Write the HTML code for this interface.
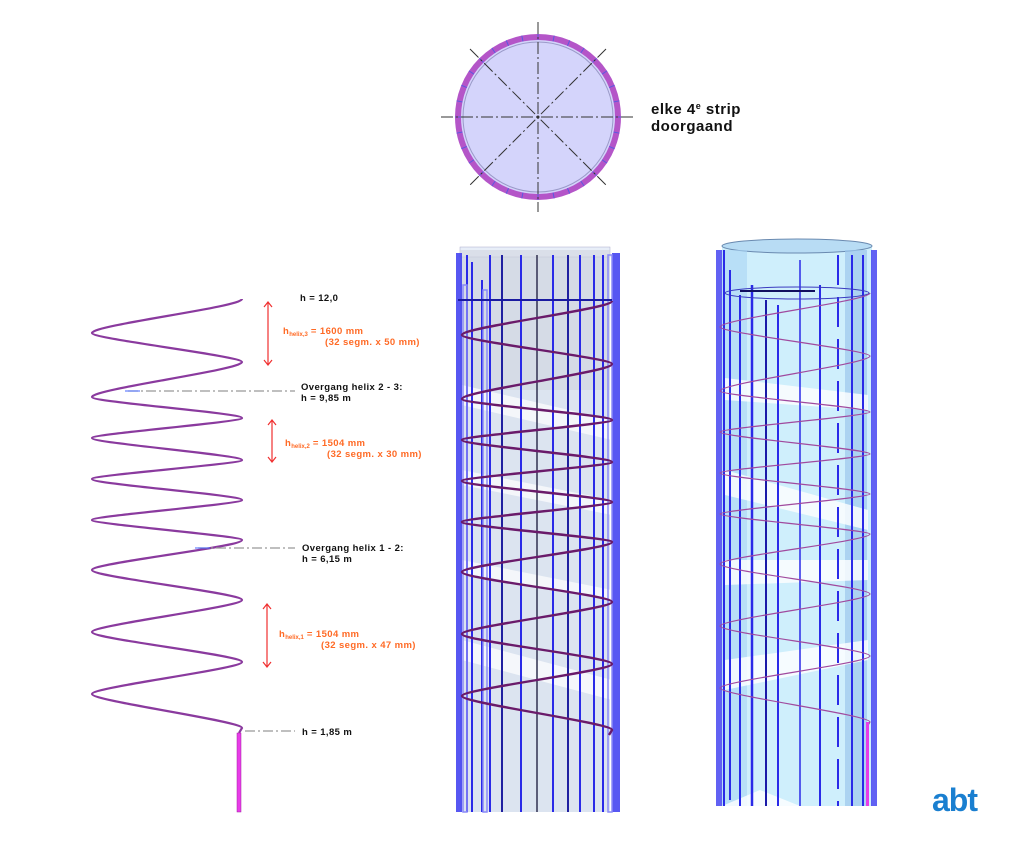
<!DOCTYPE html>
<html><head><meta charset="utf-8"><style>
html,body{margin:0;padding:0;background:#fff;}
body{width:1024px;height:853px;overflow:hidden;position:relative;font-family:"Liberation Sans",Arial,sans-serif;}
</style></head><body>
<svg width="1024" height="853" viewBox="0 0 1024 853" xmlns="http://www.w3.org/2000/svg" style="position:absolute;left:0;top:0">
<defs>
<path id="hx" d="M242,299 C242,307 92,325 92,333 C92,339 242,356 242,362 C242,370 92,389 92,397 C92,402 242,413 242,418 C242,422 92,434 92,438 C92,443 242,455 242,460 C242,464 92,475 92,479 C92,484 242,495 242,500 C242,504 92,516 92,520 C92,524 242,536 242,540 C242,547 92,563 92,570 C92,577 242,593 242,600 C242,607 92,625 92,632 C92,639 242,655 242,662 C242,669 92,687 92,694 C92,701 242,721 242,728 L239,733" fill="none"/>
</defs>

<!-- top circle -->
<g>
<circle cx="538" cy="117" r="80" fill="#d4d4fb" stroke="#b455c8" stroke-width="6"/>
<circle cx="538" cy="117" r="75" fill="none" stroke="#9a9ac8" stroke-width="1"/>
<g stroke="#5a5ae0" stroke-width="1">
<line x1="538" y1="34" x2="538" y2="40" transform="rotate(0 538 117)"/>
<line x1="538" y1="34" x2="538" y2="40" transform="rotate(11.25 538 117)"/>
<line x1="538" y1="34" x2="538" y2="40" transform="rotate(22.5 538 117)"/>
<line x1="538" y1="34" x2="538" y2="40" transform="rotate(33.75 538 117)"/>
<line x1="538" y1="34" x2="538" y2="40" transform="rotate(45 538 117)"/>
<line x1="538" y1="34" x2="538" y2="40" transform="rotate(56.25 538 117)"/>
<line x1="538" y1="34" x2="538" y2="40" transform="rotate(67.5 538 117)"/>
<line x1="538" y1="34" x2="538" y2="40" transform="rotate(78.75 538 117)"/>
<line x1="538" y1="34" x2="538" y2="40" transform="rotate(90 538 117)"/>
<line x1="538" y1="34" x2="538" y2="40" transform="rotate(101.25 538 117)"/>
<line x1="538" y1="34" x2="538" y2="40" transform="rotate(112.5 538 117)"/>
<line x1="538" y1="34" x2="538" y2="40" transform="rotate(123.75 538 117)"/>
<line x1="538" y1="34" x2="538" y2="40" transform="rotate(135 538 117)"/>
<line x1="538" y1="34" x2="538" y2="40" transform="rotate(146.25 538 117)"/>
<line x1="538" y1="34" x2="538" y2="40" transform="rotate(157.5 538 117)"/>
<line x1="538" y1="34" x2="538" y2="40" transform="rotate(168.75 538 117)"/>
<line x1="538" y1="34" x2="538" y2="40" transform="rotate(180 538 117)"/>
<line x1="538" y1="34" x2="538" y2="40" transform="rotate(191.25 538 117)"/>
<line x1="538" y1="34" x2="538" y2="40" transform="rotate(202.5 538 117)"/>
<line x1="538" y1="34" x2="538" y2="40" transform="rotate(213.75 538 117)"/>
<line x1="538" y1="34" x2="538" y2="40" transform="rotate(225 538 117)"/>
<line x1="538" y1="34" x2="538" y2="40" transform="rotate(236.25 538 117)"/>
<line x1="538" y1="34" x2="538" y2="40" transform="rotate(247.5 538 117)"/>
<line x1="538" y1="34" x2="538" y2="40" transform="rotate(258.75 538 117)"/>
<line x1="538" y1="34" x2="538" y2="40" transform="rotate(270 538 117)"/>
<line x1="538" y1="34" x2="538" y2="40" transform="rotate(281.25 538 117)"/>
<line x1="538" y1="34" x2="538" y2="40" transform="rotate(292.5 538 117)"/>
<line x1="538" y1="34" x2="538" y2="40" transform="rotate(303.75 538 117)"/>
<line x1="538" y1="34" x2="538" y2="40" transform="rotate(315 538 117)"/>
<line x1="538" y1="34" x2="538" y2="40" transform="rotate(326.25 538 117)"/>
<line x1="538" y1="34" x2="538" y2="40" transform="rotate(337.5 538 117)"/>
<line x1="538" y1="34" x2="538" y2="40" transform="rotate(348.75 538 117)"/>
</g>
<g stroke="#333" stroke-width="1" stroke-dasharray="12,3,2,3" fill="none">
<line x1="441" y1="117" x2="636" y2="117"/>
<line x1="538" y1="22" x2="538" y2="212"/>
<line x1="470" y1="49" x2="606" y2="185"/>
<line x1="606" y1="49" x2="470" y2="185"/>
</g>
<circle cx="538" cy="117" r="1.5" fill="#333"/>
</g>
<text x="651" y="114" font-size="15" font-weight="bold" fill="#111" letter-spacing="0.5">elke 4<tspan font-size="9" dy="-5">e</tspan><tspan dy="5"> strip</tspan></text>
<text x="651" y="131" font-size="15" font-weight="bold" fill="#111" letter-spacing="0.5">doorgaand</text>

<!-- left helix -->
<use href="#hx" stroke="#8a3a9e" stroke-width="2.2"/>
<rect x="237" y="733" width="4" height="79" fill="#e83ce8" stroke="#a020a0" stroke-width="0.5"/>
<g stroke="#999" stroke-width="1.3" stroke-dasharray="10,3,2,3">
<line x1="128" y1="391" x2="295" y2="391"/>
<line x1="198" y1="548" x2="295" y2="548"/>
<line x1="245" y1="731" x2="295" y2="731"/>
</g>
<line x1="125" y1="391" x2="140" y2="391" stroke="#4466ff" stroke-width="1"/>
<line x1="195" y1="548" x2="210" y2="548" stroke="#4466ff" stroke-width="1"/>
<g stroke="#f03030" stroke-width="1.2" fill="none">
<line x1="268" y1="302" x2="268" y2="365"/><polyline points="264,307 268,302 272,307"/><polyline points="264,360 268,365 272,360"/>
<line x1="272" y1="420" x2="272" y2="462"/><polyline points="268,425 272,420 276,425"/><polyline points="268,457 272,462 276,457"/>
<line x1="267" y1="604" x2="267" y2="667"/><polyline points="263,609 267,604 271,609"/><polyline points="263,662 267,667 271,662"/>
</g>
<g font-size="9.5" font-weight="bold" fill="#111" letter-spacing="0.4">
<text x="300" y="301">h = 12,0</text>
<text x="301" y="390">Overgang helix 2 - 3:</text>
<text x="301" y="401">h = 9,85 m</text>
<text x="302" y="551">Overgang helix 1 - 2:</text>
<text x="302" y="562">h = 6,15 m</text>
<text x="302" y="735">h = 1,85 m</text>
</g>
<g font-size="9.5" font-weight="bold" fill="#ff6a25" letter-spacing="0.4">
<text x="283" y="334">h<tspan font-size="6" dy="2" letter-spacing="0">helix,3</tspan><tspan dy="-2"> = 1600 mm</tspan></text>
<text x="325" y="345">(32 segm. x 50 mm)</text>
<text x="285" y="446">h<tspan font-size="6" dy="2" letter-spacing="0">helix,2</tspan><tspan dy="-2"> = 1504 mm</tspan></text>
<text x="327" y="457">(32 segm. x 30 mm)</text>
<text x="279" y="637">h<tspan font-size="6" dy="2" letter-spacing="0">helix,1</tspan><tspan dy="-2"> = 1504 mm</tspan></text>
<text x="321" y="648">(32 segm. x 47 mm)</text>
</g>

<!-- middle cylinder -->
<rect x="460" y="247" width="150" height="565" fill="#dce4f0"/>
<rect x="460" y="247" width="150" height="10" fill="#e8eef8" stroke="#aac" stroke-width="0.5"/>
<rect x="460" y="250" width="150" height="140" fill="#d0d6e0" opacity="0.6"/>
<g fill="#ffffff" opacity="0.7">
<path d="M462,385 L612,420 L612,440 L462,405Z"/>
<path d="M462,470 L612,500 L612,515 L462,485Z"/>
<path d="M462,560 L612,590 L612,600 L462,575Z"/>
<path d="M462,640 L612,680 L612,700 L462,660Z"/>
</g>
<g stroke="#2a2ae8" stroke-width="2">
<line x1="467" y1="255" x2="467" y2="812"/>
<line x1="472" y1="262" x2="472" y2="812"/>
<line x1="482" y1="280" x2="482" y2="812"/>
<line x1="490" y1="255" x2="490" y2="812"/>
<line x1="502" y1="255" x2="502" y2="812" stroke="#2020a0"/>
<line x1="521" y1="255" x2="521" y2="812"/>
<line x1="537" y1="255" x2="537" y2="812" stroke="#303050" stroke-width="1.5"/>
<line x1="553" y1="255" x2="553" y2="812"/>
<line x1="568" y1="255" x2="568" y2="812" stroke="#2020a0"/>
<line x1="580" y1="255" x2="580" y2="812"/>
<line x1="594" y1="255" x2="594" y2="812"/>
<line x1="603" y1="255" x2="603" y2="812"/>
</g>
<g fill="#3a3af0" opacity="0.85">
<rect x="456" y="253" width="6" height="559"/>
<rect x="612" y="253" width="8" height="559"/>
</g>
<g fill="none" stroke="#8a8af8" stroke-width="1.5">
<rect x="463" y="285" width="4" height="527"/>
<rect x="483" y="290" width="4" height="522"/>
<rect x="608" y="255" width="4" height="557"/>
</g>
<line x1="458" y1="300" x2="612" y2="300" stroke="#1a1aa0" stroke-width="2"/>
<use href="#hx" transform="translate(370,2)" stroke="#6a1a6a" stroke-width="2.4"/>

<!-- right cylinder -->
<rect x="722" y="247" width="150" height="559" fill="#cfeffc"/>
<ellipse cx="797" cy="246" rx="75" ry="7" fill="#b8dcf4" stroke="#6a8ab0" stroke-width="1"/>
<rect x="845" y="250" width="22" height="556" fill="#9cc8ec" opacity="0.7"/>
<rect x="722" y="250" width="25" height="556" fill="#a8d4f4" opacity="0.6"/>
<g fill="#ffffff" opacity="0.8">
<path d="M725,378 L868,395 L868,410 L725,400Z"/>
<path d="M725,470 L868,510 L868,530 L725,495Z"/>
<path d="M725,560 L868,560 L868,580 L725,585Z"/>
<path d="M725,660 L868,640 L868,660 L725,690Z"/>
<path d="M760,790 L800,806 L722,806Z"/>
</g>
<g stroke="#2a2ae8" stroke-width="2">
<line x1="724" y1="250" x2="724" y2="806"/>
<line x1="730" y1="270" x2="730" y2="800"/>
<line x1="740" y1="295" x2="740" y2="806"/>
<line x1="752" y1="285" x2="752" y2="806" stroke-width="2.5"/>
<line x1="766" y1="300" x2="766" y2="806" stroke="#1a1aa8"/>
<line x1="778" y1="305" x2="778" y2="806"/>
<line x1="800" y1="260" x2="800" y2="806" stroke-width="1.5"/>
<line x1="820" y1="285" x2="820" y2="806"/>
<line x1="838" y1="255" x2="838" y2="806" stroke-dasharray="30,12"/>
<line x1="852" y1="255" x2="852" y2="806"/>
<line x1="863" y1="255" x2="863" y2="806"/>
</g>
<g fill="#3a3af0" opacity="0.8">
<rect x="716" y="250" width="6" height="556"/>
<rect x="871" y="250" width="6" height="556"/>
</g>
<ellipse cx="797" cy="293" rx="72" ry="6" fill="none" stroke="#3a3ac0" stroke-width="1"/>
<line x1="740" y1="291" x2="815" y2="291" stroke="#101060" stroke-width="2"/>
<use href="#hx" transform="translate(628,-6)" stroke="#a04a9e" stroke-width="1.2"/>
<rect x="866" y="722" width="3" height="84" fill="#e83ce8"/>

<!-- logo -->
<text x="932" y="811" font-size="32" font-weight="bold" fill="#1a7fd0" letter-spacing="-1">abt</text>
</svg>
</body></html>
